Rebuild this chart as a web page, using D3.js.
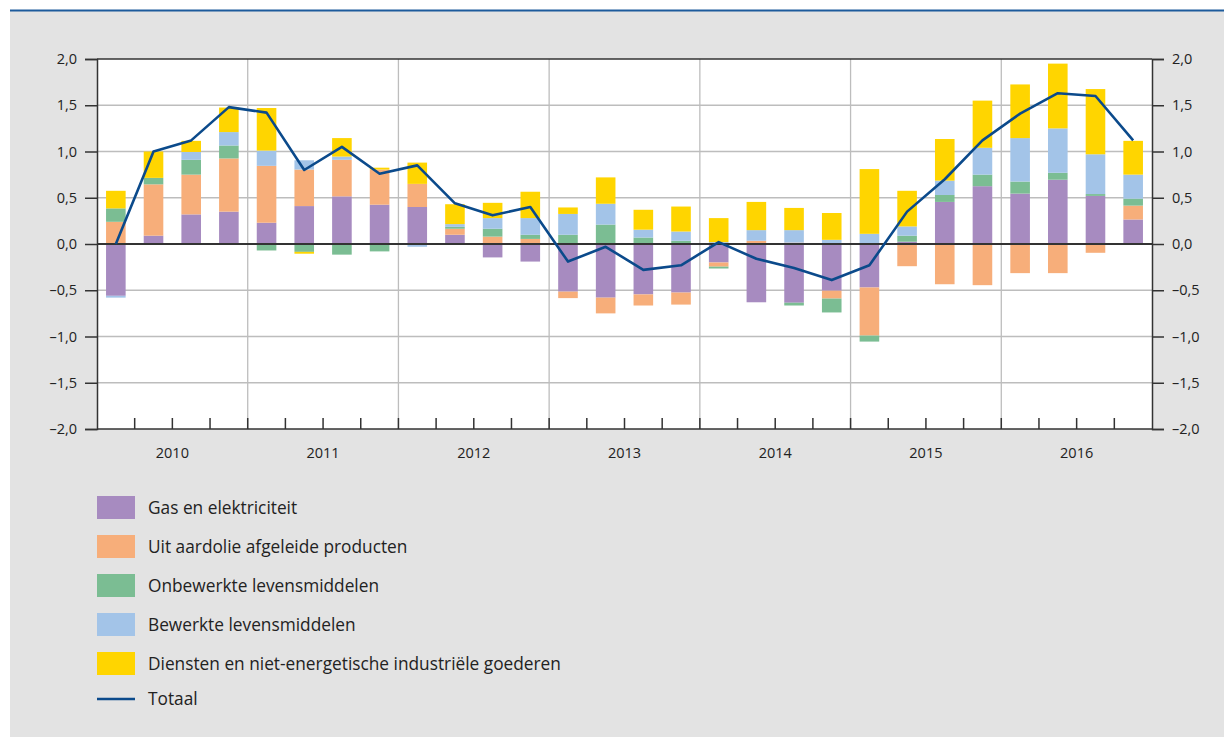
<!DOCTYPE html>
<html>
<head>
<meta charset="utf-8">
<script src="https://cdn.jsdelivr.net/npm/d3@7"></script>
<style>
  body { margin: 0; background: #fff; }
  text { font-family: "Open Sans", "Noto Sans", sans-serif; fill: #222; }
</style>
</head>
<body>
<div id="chart"></div>
<script>
// data: contributions per quarter, 2010 Q1 - 2016 Q4
const years = ["2010", "2011", "2012", "2013", "2014", "2015", "2016"];
const quarters = years.flatMap(y => ["Q1", "Q2", "Q3", "Q4"].map(q => y + q));

const gas      = [-0.56, 0.09, 0.32, 0.35, 0.23, 0.41, 0.515, 0.425, 0.40, 0.10, -0.145, -0.19, -0.515, -0.58, -0.545, -0.525, -0.20, -0.63, -0.635, -0.505, -0.47, 0.025, 0.455, 0.625, 0.545, 0.695, 0.52, 0.265];
const olie     = [0.24, 0.555, 0.43, 0.575, 0.615, 0.395, 0.395, 0.38, 0.25, 0.065, 0.08, 0.055, -0.07, -0.17, -0.12, -0.13, -0.045, 0.035, 0.015, -0.085, -0.52, -0.24, -0.435, -0.445, -0.315, -0.315, -0.095, 0.15];
const onbewerkt = [0.145, 0.07, 0.16, 0.14, -0.07, -0.085, -0.115, -0.08, -0.01, 0.02, 0.085, 0.045, 0.10, 0.21, 0.07, 0.035, -0.02, 0, -0.03, -0.15, -0.065, 0.065, 0.075, 0.125, 0.13, 0.075, 0.02, 0.075];
const bewerkt  = [-0.02, 0, 0.085, 0.145, 0.165, 0.10, 0.035, 0, -0.02, 0.03, 0.115, 0.18, 0.225, 0.225, 0.085, 0.10, 0.02, 0.115, 0.135, 0.045, 0.11, 0.10, 0.155, 0.29, 0.47, 0.48, 0.43, 0.26];
const diensten = [0.19, 0.285, 0.12, 0.265, 0.46, -0.02, 0.20, 0.02, 0.23, 0.215, 0.165, 0.285, 0.07, 0.285, 0.215, 0.27, 0.26, 0.305, 0.24, 0.29, 0.70, 0.385, 0.45, 0.51, 0.58, 0.70, 0.705, 0.365];
const totaal   = [0.0, 1.0, 1.12, 1.48, 1.42, 0.80, 1.05, 0.76, 0.85, 0.44, 0.31, 0.40, -0.19, -0.03, -0.28, -0.23, 0.02, -0.16, -0.26, -0.39, -0.23, 0.35, 0.70, 1.12, 1.41, 1.63, 1.60, 1.12];

const seriesNames = ["Gas en elektriciteit", "Uit aardolie afgeleide producten", "Onbewerkte levensmiddelen", "Bewerkte levensmiddelen", "Diensten en niet-energetische industriële goederen"];
const seriesValues = [gas, olie, onbewerkt, bewerkt, diensten];
const colors = ["#a78bc0", "#f7ae7a", "#7bbd93", "#a3c4e8", "#ffd500"];
const yTicks = [-2, -1.5, -1, -0.5, 0, 0.5, 1, 1.5, 2];

let width = 1224, height = 739;
let margin = { top: 59, left: 97, right: 72, bottom: 310 };

let table = quarters.map((q, i) => {
  let row = { q: q };
  seriesNames.forEach((s, j) => row[s] = seriesValues[j][i]);
  return row;
});

let svg = d3.select("#chart").append("svg")
  .attr("width", width).attr("height", height);

// panel
svg.append("rect").attr("x", 10).attr("y", 10).attr("width", width - 10).attr("height", height - 12)
  .attr("fill", "#e3e3e3");
svg.append("line").attr("x1", 10).attr("x2", width).attr("y1", 10.5).attr("y2", 10.5)
  .attr("stroke", "#1d5b9c").attr("stroke-width", 2);

let x = d3.scaleBand().domain(quarters)
  .range([margin.left, width - margin.right]).paddingInner(0.48).paddingOuter(0.24);
let xYear = d3.scaleBand().domain(years).range([margin.left, width - margin.right]);
let y = d3.scaleLinear().domain([-2, 2]).range([429, margin.top]);

let plotL = margin.left, plotR = width - margin.right;

svg.append("rect").attr("x", plotL).attr("y", y(2)).attr("width", plotR - plotL).attr("height", y(-2) - y(2))
  .attr("fill", "#fff");

// grid
svg.append("g").selectAll("line").data(yTicks.filter(d => d !== 0 && Math.abs(d) !== 2)).join("line")
  .attr("x1", plotL).attr("x2", plotR).attr("y1", d => y(d)).attr("y2", d => y(d))
  .attr("stroke", "#bdbdbd").attr("stroke-width", 1.3);
svg.append("g").selectAll("line").data(years.slice(1)).join("line")
  .attr("x1", d => xYear(d)).attr("x2", d => xYear(d)).attr("y1", y(2)).attr("y2", y(-2))
  .attr("stroke", "#bdbdbd").attr("stroke-width", 1.3);

// bars
let stack = d3.stack().keys(seriesNames).offset(d3.stackOffsetDiverging);
let layers = stack(table);
svg.append("g").selectAll("g").data(layers).join("g")
  .attr("fill", (d, i) => colors[i])
  .selectAll("rect").data(d => d).join("rect")
  .attr("x", d => x(d.data.q))
  .attr("width", x.bandwidth())
  .attr("y", d => y(Math.max(d[0], d[1])))
  .attr("height", d => Math.abs(y(d[0]) - y(d[1])));

// zero line
svg.append("line").attr("x1", plotL).attr("x2", plotR).attr("y1", y(0)).attr("y2", y(0))
  .attr("stroke", "#333").attr("stroke-width", 2);

// total line
svg.append("path").datum(totaal)
  .attr("fill", "none").attr("stroke", "#0b4a8b").attr("stroke-width", 2.6)
  .attr("stroke-linejoin", "round")
  .attr("d", d3.line().x((d, i) => x(quarters[i]) + x.bandwidth() / 2).y(d => y(d)));

// axes
let fmt = d => d3.format(".1f")(Math.abs(d)).replace(".", ",").replace(/^/, d < 0 ? "–" : "");
let yLeft = svg.append("g").attr("transform", `translate(${plotL},0)`)
  .call(d3.axisLeft(y).tickValues(yTicks).tickSize(12).tickPadding(8).tickFormat(fmt));
let yRight = svg.append("g").attr("transform", `translate(${plotR},0)`)
  .call(d3.axisRight(y).tickValues(yTicks).tickSize(12).tickPadding(8).tickFormat(fmt));
[yLeft, yRight].forEach(a => {
  a.select(".domain").attr("stroke", "#333").attr("stroke-width", 1.5);
  a.selectAll(".tick line").attr("stroke", "#333").attr("stroke-width", 1.5);
  a.selectAll("text").attr("font-size", 14.5).attr("fill", "#222")
    .style("font-family", "'Open Sans', 'Noto Sans', sans-serif");
});

svg.append("line").attr("x1", plotL).attr("x2", plotR).attr("y1", y(2)).attr("y2", y(2))
  .attr("stroke", "#333").attr("stroke-width", 1.5);

// bottom axis: inward quarter ticks
let xAxis = svg.append("g").attr("transform", `translate(0,${y(-2)})`);
xAxis.append("line").attr("x1", plotL).attr("x2", plotR).attr("stroke", "#333").attr("stroke-width", 1.5);
let step = x.step();
xAxis.selectAll("line.qt").data(quarters.slice(1)).join("line").attr("class", "qt")
  .attr("x1", d => x(d) - step * 0.24).attr("x2", d => x(d) - step * 0.24)
  .attr("y1", 0).attr("y2", -11).attr("stroke", "#333").attr("stroke-width", 1.5);
xAxis.selectAll("text").data(years).join("text")
  .attr("x", d => xYear(d) + xYear.bandwidth() / 2).attr("y", 29)
  .attr("text-anchor", "middle").attr("font-size", 14.5).text(d => d);

// legend
let legend = svg.append("g").attr("transform", "translate(97,496)");
let items = legend.selectAll("g").data(seriesNames.concat(["Totaal"])).join("g")
  .attr("transform", (d, i) => `translate(0,${i * 39})`);
items.each(function (d, i) {
  let g = d3.select(this);
  if (i < seriesNames.length) {
    g.append("rect").attr("width", 38).attr("height", 23).attr("fill", colors[i]);
  } else {
    g.append("line").attr("x1", 0).attr("x2", 38).attr("y1", 8).attr("y2", 8)
      .attr("stroke", "#0b4a8b").attr("stroke-width", 2.5);
  }
  g.append("text").attr("x", 51).attr("y", i < seriesNames.length ? 18 : 14)
    .attr("font-size", 17.3).attr("fill", "#333").text(d);
});
</script>
</body>
</html>
